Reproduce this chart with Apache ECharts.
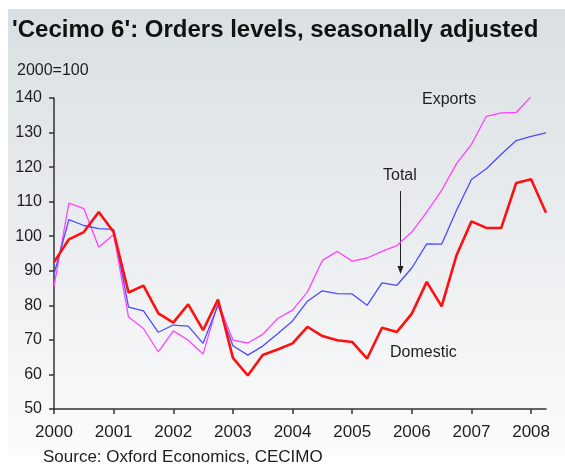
<!DOCTYPE html>
<html>
<head>
<meta charset="utf-8">
<script src="https://cdn.jsdelivr.net/npm/echarts@6/dist/echarts.min.js"></script>
<style>
  html, body { margin: 0; padding: 0; background: #fff; }
  #chart { width: 565px; height: 468px; }
</style>
</head>
<body>
<div id="chart"></div>
<script>
// quarters 2000 Q1 .. 2008 Q2
const quarters = []
for (let y = 2000; y <= 2008; y++) {
    for (let q = 1; q <= 4; q++) {
        if (y === 2008 && q > 2) break
        quarters.push(y + ' Q' + q)
    }
}

const exportsIdx = [85.5, 109.6, 108.0, 96.8, 100.5, 76.6, 73.3, 66.5, 72.6, 69.9,
    65.9, 80.8, 69.9, 69.1, 71.6, 76.2, 78.6, 83.9, 93.0, 95.6,
    92.8, 93.7, 95.6, 97.3, 101.2, 107.0, 113.3, 121.0, 126.6, 134.7,
    135.7, 135.8, 140.4, null]

const totalIdx = [89.0, 104.8, 103.1, 102.2, 102.0, 79.5, 78.4, 72.2, 74.3, 74.0,
    69.0, 80.0, 68.3, 65.6, 68.2, 71.8, 75.5, 81.2, 84.2, 83.4,
    83.3, 80.0, 86.5, 85.8, 90.8, 97.8, 97.7, 107.5, 116.4, 119.5,
    123.7, 127.7, 128.9, 129.9]

const domesticIdx = [92.5, 99.1, 101.2, 107.0, 101.2, 83.7, 85.7, 77.7, 75.0, 80.3,
    72.8, 81.7, 64.8, 59.7, 65.6, 67.2, 69.0, 73.8, 71.1, 69.9,
    69.4, 64.6, 73.5, 72.3, 77.6, 86.8, 79.7, 94.5, 104.3, 102.4,
    102.4, 115.4, 116.5, 106.8]

const txt = '#1e1e1e'
const font = 'Arial, "Liberation Sans", sans-serif'

const chart = echarts.init(document.getElementById('chart'))

const option = {
    animation: false,
    graphic: [
        {
            type: 'rect', z: -10, silent: true,
            shape: { x: 8, y: 9, width: 557, height: 447 },
            style: {
                fill: new echarts.graphic.LinearGradient(0, 0, 0, 1, [
                    { offset: 0, color: '#d9dfe2' },
                    { offset: 1, color: '#fbfbfc' }
                ])
            }
        },
        {
            type: 'text', left: 12, top: 18,
            style: { text: "'Cecimo 6': Orders levels, seasonally adjusted", fill: '#111', font: 'bold 24px ' + font }
        },
        {
            type: 'text', left: 17, top: 63,
            style: { text: '2000=100', fill: txt, font: '16px ' + font }
        },
        {
            type: 'text', left: 422, top: 92,
            style: { text: 'Exports', fill: txt, font: '16px ' + font }
        },
        {
            type: 'text', left: 383, top: 168,
            style: { text: 'Total', fill: txt, font: '16px ' + font }
        },
        {
            type: 'text', left: 390, top: 345,
            style: { text: 'Domestic', fill: txt, font: '16px ' + font }
        },
        {
            type: 'line',
            shape: { x1: 400.5, y1: 191, x2: 400.5, y2: 268 },
            style: { stroke: '#222', lineWidth: 1 }
        },
        {
            type: 'polygon',
            shape: { points: [[397.5, 266], [403.5, 266], [400.5, 274]] },
            style: { fill: '#222' }
        },
        {
            type: 'text', left: 43, top: 449,
            style: { text: 'Source: Oxford Economics, CECIMO', fill: txt, font: '17px ' + font }
        }
    ],
    grid: {
        left: 54,
        right: 19,
        top: 98,
        bottom: 59
    },
    xAxis: {
        type: 'category',
        data: quarters,
        boundaryGap: false,
        axisLine: { lineStyle: { color: '#333', width: 1.5 } },
        axisTick: { interval: 3, length: 5, lineStyle: { color: '#333', width: 1.5 } },
        axisLabel: {
            interval: 3,
            margin: 15,
            color: txt,
            fontSize: 17,
            fontFamily: font,
            formatter: v => v.slice(0, 4)
        },
        splitLine: { show: false }
    },
    yAxis: {
        type: 'value',
        min: 50,
        max: 140,
        interval: 10,
        axisLine: { show: true, lineStyle: { color: '#333', width: 1.5 } },
        axisTick: { show: true, length: 5, lineStyle: { color: '#333', width: 1.5 } },
        axisLabel: { color: txt, fontSize: 16, fontFamily: font, margin: 12 },
        splitLine: { show: false }
    },
    series: [
        {
            name: 'Exports', type: 'line', data: exportsIdx,
            symbol: 'none',
            lineStyle: { color: '#ff44ff', width: 1.3 }
        },
        {
            name: 'Total', type: 'line', data: totalIdx,
            symbol: 'none',
            lineStyle: { color: '#4b4bff', width: 1.3 }
        },
        {
            name: 'Domestic', type: 'line', data: domesticIdx,
            symbol: 'none',
            lineStyle: { color: '#ff1010', width: 2.6 }
        }
    ]
}

chart.setOption(option)
</script>
</body>
</html>
